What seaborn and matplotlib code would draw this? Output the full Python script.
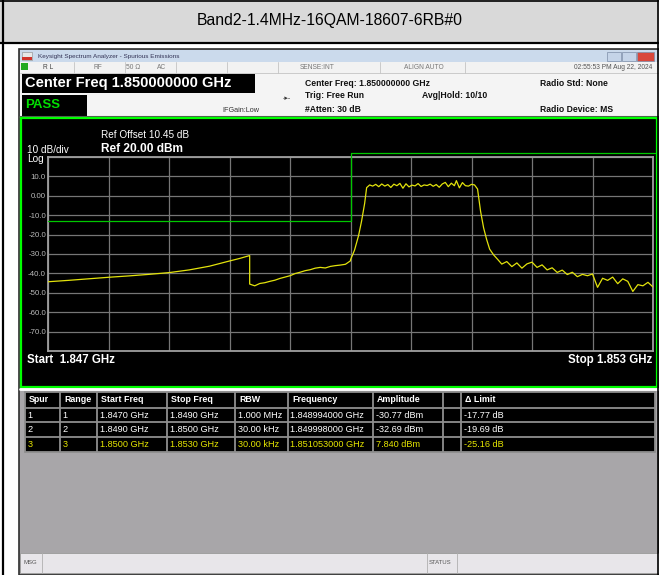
import matplotlib.pyplot as plt
import matplotlib.patches as mpatches
import numpy as np
import pandas as pd
import seaborn as sns

W, H = 659, 575

title = "Band2-1.4MHz-16QAM-18607-6RB#0"

# trace, range 1 (1.847 - 1.849 GHz)
r1_freq = [1.8470, 1.8472, 1.8474, 1.8476, 1.8478, 1.8480, 1.8482, 1.8484,
           1.8486, 1.8488, 1.8489, 1.8490]
r1_level = [-44.3, -43.6, -42.8, -42.0, -41.3, -40.5, -39.6, -38.2,
            -36.3, -33.6, -32.3, -30.8]

# trace, range 2 (1.849 - 1.850 GHz)
r2_freq = [1.84900, 1.84905, 1.84910, 1.84915, 1.84920, 1.84925, 1.84930,
           1.84935, 1.84940, 1.84945, 1.84950, 1.84955, 1.84960, 1.84965,
           1.84970, 1.84975, 1.84980, 1.84985, 1.84990, 1.84995, 1.85000]
r2_level = [-45.5, -46.4, -45.2, -44.8, -44.1, -43.5, -42.6,
            -41.9, -41.2, -40.1, -39.4, -38.6, -38.1, -37.3,
            -36.9, -37.2, -36.4, -36.0, -35.7, -35.3, -33.5]

# trace, range 3 (1.850 - 1.853 GHz)
r3_freq = [1.85000, 1.85004, 1.85008, 1.85011, 1.85014, 1.85016, 1.85019,
           1.85022, 1.85025, 1.85028, 1.85031, 1.85034, 1.85037, 1.85040,
           1.85043, 1.85046, 1.85049, 1.85052, 1.85055, 1.85058, 1.85061,
           1.85064, 1.85067, 1.85070, 1.85073, 1.85076, 1.85079, 1.85082,
           1.85085, 1.85088, 1.85091, 1.85094, 1.85097, 1.85100, 1.85103,
           1.85105, 1.85108, 1.85111, 1.85114, 1.85117, 1.85120, 1.85123,
           1.85126, 1.85129, 1.85132, 1.85135, 1.85138, 1.85142, 1.85146,
           1.85150, 1.85155, 1.85160, 1.85165, 1.85170, 1.85175, 1.85180,
           1.85185, 1.85190, 1.85195, 1.85200, 1.85205, 1.85210, 1.85215,
           1.85220, 1.85225, 1.85230, 1.85235, 1.85240, 1.85245, 1.85250,
           1.85255, 1.85260, 1.85265, 1.85270, 1.85275, 1.85280, 1.85285,
           1.85290, 1.85295, 1.85300]
r3_level = [-33.0, -28.0, -20.5, -13.0, -4.0, 4.2, 5.6,
            5.0, 5.9, 4.7, 6.1, 5.0, 5.8, 4.3,
            6.0, 5.2, 6.4, 3.9, 6.2, 4.6, 5.5,
            5.1, 6.3, 4.8, 5.6, 5.3, 6.0, 4.9,
            5.8, 4.4, 6.1, 6.9, 4.7, 6.5, 5.2,
            7.8, 4.1, 6.8, 5.2, 5.0, 5.9, 5.6,
            3.5, -8.0, -16.5, -22.5, -27.5, -30.5, -32.8,
            -35.2, -33.9, -36.5, -34.6, -37.3, -35.1, -34.2,
            -36.9, -35.6, -38.2, -37.1, -39.5, -38.3, -40.6,
            -39.4, -41.7, -40.5, -41.2, -40.3, -47.2, -42.5,
            -43.6, -41.9, -45.3, -42.8, -44.1, -49.3, -45.8,
            -46.4, -44.6, -47.0]

limit_freq = [1.847, 1.850, 1.850, 1.85302]
limit_level = [-13, -13, 22, 22]

grid_freq = [1.8470, 1.8476, 1.8482, 1.8488, 1.8494, 1.8500,
             1.8506, 1.8512, 1.8518, 1.8524, 1.8530]
y_ticks = [20, 10, 0, -10, -20, -30, -40, -50, -60, -70, -80]
y_labels = ["", "10.0", "0.00", "-10.0", "-20.0", "-30.0", "-40.0",
            "-50.0", "-60.0", "-70.0", ""]

table_cols = ["Spur", "Range", "Start Freq", "Stop Freq", "RBW",
              "Frequency", "Amplitude", "", "\u0394 Limit"]
table_rows = [
    ["1", "1", "1.8470 GHz", "1.8490 GHz", "1.000 MHz", "1.848994000 GHz",
     "-30.77 dBm", "", "-17.77 dB"],
    ["2", "2", "1.8490 GHz", "1.8500 GHz", "30.00 kHz", "1.849998000 GHz",
     "-32.69 dBm", "", "-19.69 dB"],
    ["3", "3", "1.8500 GHz", "1.8530 GHz", "30.00 kHz", "1.851053000 GHz",
     "7.840 dBm", "", "-25.16 dB"],
]
row_colors = ["white", "white", "#e6e600"]

sns.set_theme(style="dark")
plt.rcParams["font.family"] = ["Liberation Sans", "DejaVu Sans"]

fig = plt.figure(figsize=(W / 100, H / 100), dpi=100)
fig.patch.set_facecolor("white")

# pixel canvas for the screenshot chrome
cv = fig.add_axes([0, 0, 1, 1])
cv.set_xlim(0, W)
cv.set_ylim(H, 0)
cv.axis("off")


def box(x0, y0, x1, y1, fc, ec="none", lw=0, z=1):
    cv.add_patch(mpatches.Rectangle((x0, y0), x1 - x0, y1 - y0, fc=fc,
                                    ec=ec, lw=lw, zorder=z))


def txt(x, y, s, size, color="black", weight="normal", ha="left", z=5):
    cv.text(x, y, s, fontsize=size, color=color, fontweight=weight,
            ha=ha, va="center", zorder=z)


# outer document cell
box(0, 0, W, 43, "#d9d9d9")
cv.plot([0, W], [43, 43], color="black", lw=1.6, zorder=3)
cv.plot([0, W], [0.5, 0.5], color="black", lw=1.2, zorder=3)
cv.plot([2.5, 2.5], [0, H], color="black", lw=1.6, zorder=3)
cv.plot([658, 658], [0, H], color="black", lw=1.2, zorder=3)
txt(330, 21, title, 11.3, ha="center")

# analyzer window
box(19, 49, 659, H, "#a8a6a9", ec="#2e2e2e", lw=1.2)
box(20, 50, 659, 62, "#cbdaec")
box(22, 52, 32, 60, "#e8e8e8", ec="#888888", lw=0.4, z=2)
box(22, 57, 32, 60, "#d0342c", z=3)
txt(38, 56.5, "Keysight Spectrum Analyzer - Spurious Emissions", 4.6, "#333355")
for bx0, bx1, col in [(607, 621, "#c5d4e8"), (622, 636, "#c5d4e8"),
                      (637, 654, "#d9473c")]:
    box(bx0, 51.5, bx1, 60.5, col, ec="#7d8ea8", lw=0.5, z=2)

# info strip
box(20, 62, 659, 73, "#f2f2f2")
for sx in [74, 125, 176, 227, 278, 380, 465]:
    cv.plot([sx, sx], [62, 73], color="#c4c4c4", lw=0.6, zorder=2)
cv.plot([20, 659], [73, 73], color="#c4c4c4", lw=0.6, zorder=2)
box(21, 63, 28, 70, "#22aa22", z=2)
txt(43, 67.5, "R L", 4.8, "#444444")
txt(98, 67.5, "RF", 4.8, "#777777", ha="center")
txt(133, 67.5, "50 \u03a9", 4.8, "#777777", ha="center")
txt(162, 67.5, "AC", 4.8, "#777777", ha="center")
txt(317, 67.5, "SENSE:INT", 4.8, "#777777", ha="center")
txt(424, 67.5, "ALIGN AUTO", 4.8, "#777777", ha="center")
txt(652, 67.5, "02:55:53 PM Aug 22, 2024", 4.8, "#555555", ha="right")

# header panel
box(20, 73, 659, 116, "#f4f4f4")
box(22, 74, 255, 93, "black")
txt(25, 83.5, "Center Freq 1.850000000 GHz", 10.5, "white", "bold")
box(22, 95, 87, 116, "black")
txt(25, 105, "PASS", 9.5, "#00e000", "bold")
txt(222, 111, "IFGain:Low", 5.2, "#333333")
txt(287, 99, "\u2010\u25b8\u2010", 5, "#333333", ha="center")
txt(305, 84, "Center Freq: 1.850000000 GHz", 6.2, "#111111", "bold")
txt(305, 96, "Trig: Free Run", 6.2, "#111111", "bold")
txt(305, 109, "#Atten: 30 dB", 6.2, "#111111", "bold")
txt(422, 96, "Avg|Hold: 10/10", 6.2, "#111111", "bold")
txt(540, 84, "Radio Std: None", 6.2, "#111111", "bold")
txt(540, 110, "Radio Device: MS", 6.2, "#111111", "bold")
cv.plot([20, 659], [116.5, 116.5], color="#555555", lw=1.5, zorder=2)

# graph window
box(21, 118, 656.5, 386.5, "black", ec="#00ff00", lw=1.6, z=2)
txt(101, 135, "Ref Offset 10.45 dB", 7.2, "white")
txt(101, 148.5, "Ref 20.00 dBm", 8.6, "white", "bold")
txt(27, 150, "10 dB/div", 7.2, "white")
txt(27, 159.5, "Log", 7.2, "white")
txt(27, 360, "Start  1.847 GHz", 8.3, "white", "bold")
txt(652, 360, "Stop 1.853 GHz", 8.3, "white", "bold", ha="right")

# spurious table
cv.plot([20, 659], [388.5, 388.5], color="white", lw=2, zorder=2)
col_x = [25, 60, 97, 167, 235, 288, 373, 443, 461, 655]
row_y = [392, 407.7, 422.3, 437.2, 452]
box(col_x[0], row_y[0], col_x[-1], row_y[-1], "black", z=2)
for xs in col_x:
    cv.plot([xs, xs], [row_y[0], row_y[-1]], color="#8e8e8e", lw=1.3, zorder=3)
for ys in row_y:
    cv.plot([col_x[0], col_x[-1]], [ys, ys], color="#8e8e8e", lw=1.3, zorder=3)
for j, name in enumerate(table_cols):
    txt(col_x[j] + 4, (row_y[0] + row_y[1]) / 2, name, 6.4, "white", "bold")
for i, row in enumerate(table_rows):
    yc = (row_y[i + 1] + row_y[i + 2]) / 2
    for j, val in enumerate(row):
        txt(col_x[j] + 2.5, yc, val, 6.6, row_colors[i])

# status bar
box(20, 553, 659, 573, "#e8e6ea", ec="#9a9a9a", lw=0.6, z=2)
for sx in [42, 427, 457]:
    cv.plot([sx, sx], [553, 573], color="#b0b0b0", lw=0.6, zorder=3)
txt(23, 563, "MSG", 4.3, "#555555")
txt(429, 563, "STATUS", 4.3, "#555555")

# spectrum trace
ax = fig.add_axes([48 / W, 1 - 351 / H, 605 / W, 194 / H])
ax.set_facecolor("black")
trace = pd.DataFrame({
    "freq": r1_freq + r2_freq + r3_freq,
    "level": r1_level + r2_level + r3_level,
})
sns.lineplot(data=trace, x="freq", y="level", sort=False, estimator=None,
             color="#e3e30c", lw=0.9, ax=ax, zorder=4)
ax.plot(limit_freq, limit_level, color="#00c800", lw=0.9, clip_on=False,
        zorder=3)
ax.set_xlim(1.847, 1.853)
ax.set_ylim(-80, 20)
ax.set_xticks(grid_freq)
ax.set_xticklabels([])
ax.set_yticks(y_ticks, y_labels)
ax.tick_params(axis="both", length=0)
ax.tick_params(axis="y", labelsize=5.7, labelcolor="#b8b8b8", pad=1.5)
ax.grid(True, color="#767676", lw=0.9)
ax.set_xlabel("")
ax.set_ylabel("")
for sp in ax.spines.values():
    sp.set_visible(True)
    sp.set_color("#a0a0a0")
    sp.set_linewidth(1.3)

fig.savefig("out.png", dpi=100, facecolor=fig.get_facecolor())
